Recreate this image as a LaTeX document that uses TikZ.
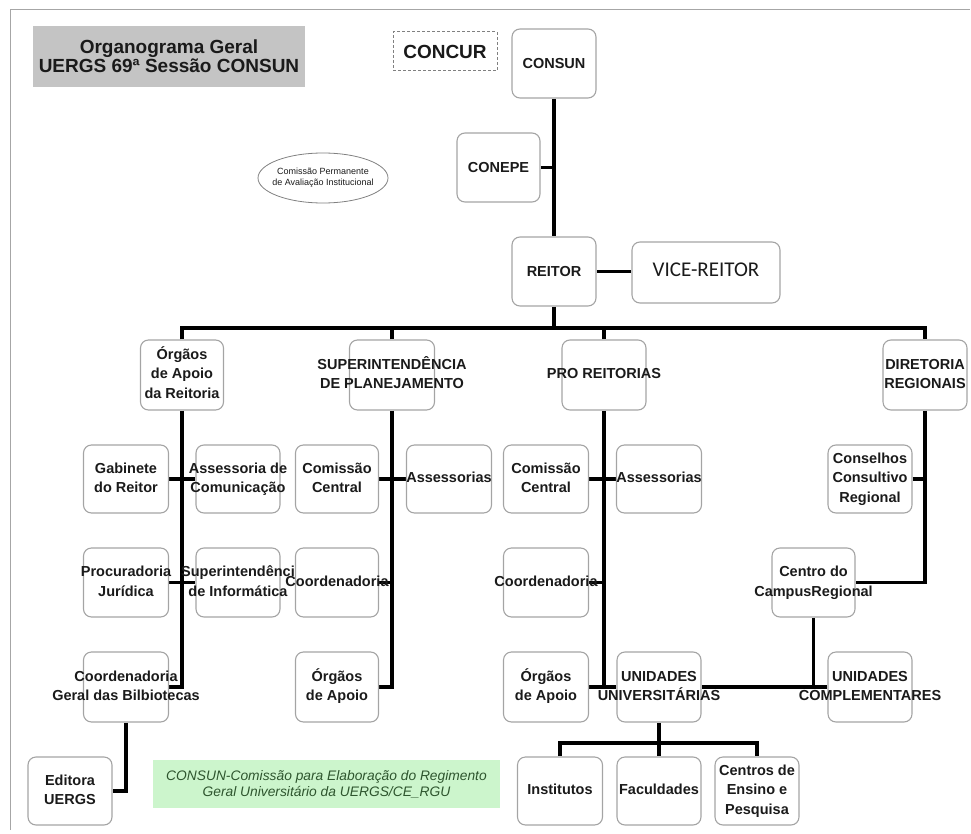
\documentclass[tikz,border=0pt]{standalone}
\usepackage{fontspec}
\setmainfont{Liberation Sans}
\newfontfamily\carl{Carlito}
\usetikzlibrary{shapes.geometric,backgrounds}
\definecolor{boxgray}{HTML}{A4A4A4}
\definecolor{titlegray}{HTML}{C4C4C4}
\definecolor{greenfill}{HTML}{CCF5CC}
\definecolor{greentext}{HTML}{2E552E}
\definecolor{txt}{HTML}{1A1A1A}
\newcommand\bxf{\fontsize{14.5}{19.5}\selectfont\bfseries}
\newcommand\T[1]{\makebox[0pt]{\begin{tabular}{@{}c@{}}#1\end{tabular}}}
\begin{document}
\begin{tikzpicture}[x=1pt,y=-1pt,
 obox/.style={draw=boxgray, rounded corners=8pt, line width=1.1pt, minimum width=84pt, minimum height=69pt, inner sep=0pt, font=\bxf, text=txt},
 conn/.style={line width=3.3pt, black}]
\useasboundingbox (0,0) rectangle (971,834);
\draw[gray!70, line width=1pt] (10,830) -- (10,10) -- (970,10);

% header
\node[fill=titlegray, minimum width=272pt, minimum height=61pt, align=center, inner sep=0pt,
      font=\fontsize{19}{19}\selectfont\bfseries, text=txt] (title) at (169,56.5) {Organograma Geral\\UERGS 69ª Sessão CONSUN};
\node[draw=gray, dash pattern=on 3pt off 2pt, line width=1pt, minimum width=104pt, minimum height=39pt, inner sep=0pt,
      font=\fontsize{19}{19}\selectfont\bfseries, text=txt] (concur) at (445,51.5) {CONCUR};
\node[obox] (consun) at (554,63.5) {CONSUN};
\node[obox, minimum width=83pt] (conepe) at (498.5,167.5) {CONEPE};
\node[obox] (reitor) at (554,271.5) {REITOR};
\node[obox, minimum width=148pt, minimum height=61pt, font=\carl\fontsize{21}{21}\selectfont] (vice) at (706,272.5) {\raisebox{5pt}{VICE-REITOR}};
\node[ellipse, draw=gray, line width=0.8pt, minimum width=130pt, minimum height=50pt, inner sep=0pt,
      font=\fontsize{9}{10.5}\selectfont, text=txt] (cpa) at (323,178) {\T{Comissão Permanente\\de Avaliação Institucional}};

% level 2
\node[obox, minimum height=70pt, minimum width=83pt] (org) at (182,375) {\T{Órgãos\\de Apoio\\da Reitoria}};
\node[obox, minimum height=70pt, minimum width=85pt] (sup) at (392,375) {\T{SUPERINTENDÊNCIA\\DE PLANEJAMENTO}};
\node[obox, minimum height=70pt] (pro) at (604,375) {\T{PRO REITORIAS}};
\node[obox, minimum height=70pt] (dir) at (925,375) {\T{DIRETORIA\\REGIONAIS}};

% level 3
\node[obox, minimum height=68pt, minimum width=85pt] (gab) at (126,479) {\T{Gabinete\\do Reitor}};
\node[obox, minimum height=68pt] (asscom) at (238,479) {\T{Assessoria de\\Comunicação}};
\node[obox, minimum height=68pt, minimum width=83pt] (ccsp) at (337,479) {\T{Comissão\\Central}};
\node[obox, minimum height=68pt, minimum width=85pt] (asssp) at (449,479) {\T{Assessorias}};
\node[obox, minimum height=68pt, minimum width=85pt] (ccpr) at (546,479) {\T{Comissão\\Central}};
\node[obox, minimum height=68pt, minimum width=85pt] (asspr) at (659,479) {\T{Assessorias}};
\node[obox, minimum height=68pt] (cons) at (870,479) {\T{Conselhos\\Consultivo\\Regional}};

% level 4
\node[obox, minimum width=85pt] (proc) at (126,582.5) {\T{Procuradoria\\Jurídica}};
\node[obox] (supinf) at (238,582.5) {\T{Superintendênci\\de Informática}};
\node[obox, minimum width=83pt] (coordsp) at (337,582.5) {\T{Coordenadoria}};
\node[obox, minimum width=85pt] (coordpr) at (546,582.5) {\T{Coordenadoria}};
\node[obox, minimum width=83pt] (centro) at (813.5,582.5) {\T{Centro do\\CampusRegional}};

% level 5
\node[obox, minimum height=70pt, minimum width=85pt] (cgb) at (126,687) {\T{Coordenadoria\\Geral das Bilbiotecas}};
\node[obox, minimum height=70pt, minimum width=83pt] (oasp) at (337,687) {\T{Órgãos\\de Apoio}};
\node[obox, minimum height=70pt, minimum width=85pt] (oapr) at (546,687) {\T{Órgãos\\de Apoio}};
\node[obox, minimum height=70pt] (univ) at (659,687) {\T{UNIDADES\\UNIVERSITÁRIAS}};
\node[obox, minimum height=70pt] (compl) at (870,687) {\T{UNIDADES\\COMPLEMENTARES}};

% level 6
\node[obox, minimum height=68pt] (edit) at (70,791) {\T{Editora\\UERGS}};
\node[obox, minimum height=68pt, minimum width=85pt] (inst) at (560,791) {\T{Institutos}};
\node[obox, minimum height=68pt] (fac) at (659,791) {\T{Faculdades}};
\node[obox, minimum height=68pt] (cent) at (757,791) {\T{Centros de\\Ensino e\\Pesquisa}};

\node[fill=greenfill, minimum width=347pt, minimum height=48pt, inner sep=0pt, align=center,
      font=\fontsize{13.8}{16}\selectfont\itshape, text=greentext] (note) at (326.5,784)
      {CONSUN-Comissão para Elaboração do Regimento\\Geral Universitário da UERGS/CE\_RGU};

\coordinate (bus) at (0,328);
\coordinate (ubus) at (0,743);

\begin{scope}[on background layer]
\draw[conn] (consun.south) -- (reitor.north);
\draw[conn] (conepe.east) -- (conepe.east -| consun.south);
\draw[conn] (reitor.east) -- (reitor.east -| vice.west);
\draw[conn] (reitor.south) -- (reitor.south |- bus);
\draw[conn] (org.north) |- (bus -| dir.north) -- (dir.north);
\draw[conn] (sup.north) -- (sup.north |- bus);
\draw[conn] (pro.north) -- (pro.north |- bus);
% orgaos de apoio da reitoria
\draw[conn] (org.south) |- (cgb.east);
\draw[conn] (gab.east) -- (asscom.west);
\draw[conn] (proc.east) -- (supinf.west);
\draw[conn] (cgb.south) |- (edit.east);
% superintendencia
\draw[conn] (sup.south) |- (oasp.east);
\draw[conn] (ccsp.east) -- (asssp.west);
\draw[conn] (coordsp.east) -- (coordsp.east -| sup.south);
% pro reitorias
\draw[conn] (pro.south) -- (pro.south |- univ.west);
\draw[conn] (ccpr.east) -- (asspr.west);
\draw[conn] (coordpr.east) -- (coordpr.east -| pro.south);
\draw[conn] (oapr.east) -- (univ.west);
\draw[conn] (univ.east) -- (compl.west);
% diretoria
\draw[conn] (dir.south) |- (centro.east);
\draw[conn] (cons.east) -- (cons.east -| dir.south);
\draw[conn] (centro.south) -- (centro.south |- compl.west);
% unidades
\draw[conn] (univ.south) -- (fac.north);
\draw[conn] (inst.north) |- (ubus -| univ.south) -| (cent.north);
\end{scope}
\end{tikzpicture}
\end{document}
